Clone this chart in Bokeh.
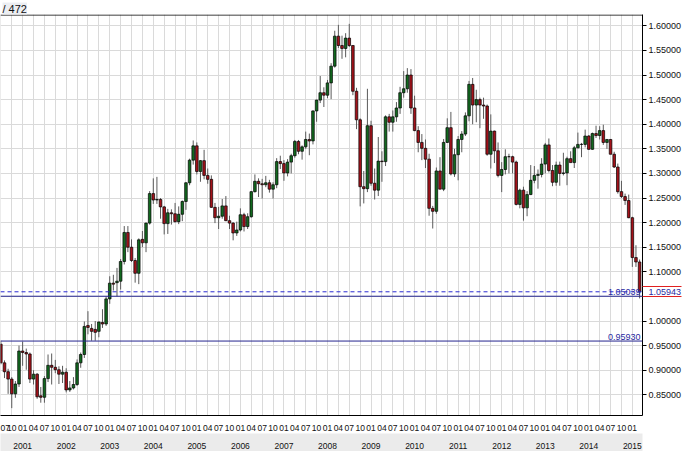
from bokeh.plotting import figure
from bokeh.models import (ColumnDataSource, LinearAxis, FixedTicker, Range1d, Span,
                          Label, PrintfTickFormatter)
from bokeh.embed import file_html
from bokeh.resources import INLINE

# first candle: July 2000 (month index counted from Jan 2000 = 0)
first_month = 6

opens = [
    .953, .915, .897, .882, .852, .872,
    .939, .936, .933, .882, .892, .848, .845, .883, .910, .906, .901, .892,
    .896, .860, .864, .871, .915, .932, .991, .985, .983, .979, .997, .994,
    1.045, 1.077, 1.078, 1.081, 1.121, 1.180, 1.150, 1.123, 1.097, 1.166, 1.159, 1.199,
    1.259, 1.246, 1.247, 1.232, 1.198, 1.220, 1.218, 1.202, 1.217, 1.243, 1.281, 1.327,
    1.356, 1.304, 1.326, 1.296, 1.288, 1.231, 1.210, 1.213, 1.234, 1.204, 1.199, 1.179,
    1.185, 1.216, 1.192, 1.212, 1.263, 1.284, 1.279, 1.277, 1.281, 1.268, 1.277, 1.324,
    1.320, 1.301, 1.323, 1.336, 1.365, 1.345, 1.354, 1.369, 1.366, 1.427, 1.449, 1.464,
    1.459, 1.484, 1.518, 1.579, 1.560, 1.554, 1.575, 1.560, 1.467, 1.409, 1.273, 1.269,
    1.397, 1.280, 1.266, 1.325, 1.324, 1.415, 1.404, 1.415, 1.433, 1.464, 1.472, 1.500,
    1.433, 1.387, 1.363, 1.351, 1.329, 1.229, 1.223, 1.305, 1.268, 1.363, 1.393, 1.299,
    1.338, 1.369, 1.380, 1.417, 1.481, 1.439, 1.450, 1.439, 1.437, 1.339, 1.386, 1.346,
    1.296, 1.308, 1.334, 1.334, 1.323, 1.237, 1.266, 1.230, 1.257, 1.286, 1.296, 1.298,
    1.319, 1.358, 1.306, 1.282, 1.317, 1.300, 1.301, 1.330, 1.322, 1.352, 1.359, 1.359,
    1.376, 1.349, 1.381, 1.377, 1.387, 1.363, 1.369, 1.339, 1.313, 1.263, 1.253, 1.245,
    1.210, 1.129, 1.120,
]
highs = [
    .960, .920, .903, .886, .878, .950,
    .958, .944, .936, .900, .894, .866, .888, .932, .934, .921, .908, .909,
    .904, .878, .886, .922, .936, .999, 1.020, .994, 1.000, .999, 1.024, 1.050,
    1.091, 1.094, 1.108, 1.126, 1.193, 1.193, 1.166, 1.128, 1.168, 1.183, 1.200, 1.264,
    1.290, 1.293, 1.250, 1.234, 1.228, 1.227, 1.240, 1.233, 1.245, 1.282, 1.330, 1.367,
    1.363, 1.327, 1.348, 1.310, 1.296, 1.240, 1.232, 1.248, 1.254, 1.214, 1.201, 1.202,
    1.229, 1.220, 1.219, 1.264, 1.298, 1.290, 1.289, 1.295, 1.287, 1.282, 1.331, 1.336,
    1.327, 1.329, 1.340, 1.368, 1.368, 1.357, 1.385, 1.381, 1.428, 1.450, 1.498, 1.475,
    1.490, 1.524, 1.590, 1.602, 1.580, 1.585, 1.604, 1.560, 1.474, 1.412, 1.305, 1.472,
    1.407, 1.310, 1.374, 1.345, 1.418, 1.421, 1.428, 1.445, 1.476, 1.508, 1.514, 1.512,
    1.458, 1.396, 1.380, 1.369, 1.340, 1.234, 1.312, 1.333, 1.370, 1.412, 1.425, 1.350,
    1.376, 1.386, 1.424, 1.488, 1.494, 1.470, 1.454, 1.454, 1.440, 1.420, 1.387, 1.363,
    1.323, 1.349, 1.340, 1.336, 1.326, 1.269, 1.273, 1.264, 1.317, 1.315, 1.308, 1.331,
    1.362, 1.371, 1.317, 1.324, 1.324, 1.342, 1.334, 1.345, 1.356, 1.383, 1.362, 1.389,
    1.378, 1.383, 1.397, 1.396, 1.399, 1.370, 1.370, 1.344, 1.320, 1.285, 1.259, 1.257,
    1.212, 1.154, 1.125,
]
lows = [
    .912, .884, .852, .823, .844, .866,
    .909, .901, .874, .871, .842, .834, .834, .876, .871, .894, .872, .874,
    .855, .856, .861, .868, .905, .925, .973, .960, .960, .967, .986, .990,
    1.035, 1.062, 1.050, 1.064, 1.115, 1.140, 1.120, 1.078, 1.075, 1.150, 1.140, 1.196,
    1.238, 1.238, 1.208, 1.176, 1.177, 1.196, 1.200, 1.197, 1.203, 1.226, 1.276, 1.318,
    1.298, 1.283, 1.288, 1.279, 1.230, 1.199, 1.187, 1.208, 1.203, 1.187, 1.164, 1.173,
    1.182, 1.182, 1.187, 1.210, 1.261, 1.252, 1.249, 1.272, 1.261, 1.249, 1.270, 1.309,
    1.285, 1.294, 1.300, 1.332, 1.339, 1.328, 1.350, 1.337, 1.359, 1.405, 1.443, 1.435,
    1.453, 1.451, 1.515, 1.555, 1.533, 1.536, 1.557, 1.459, 1.390, 1.233, 1.239, 1.262,
    1.275, 1.247, 1.254, 1.283, 1.315, 1.385, 1.385, 1.405, 1.421, 1.454, 1.464, 1.421,
    1.386, 1.343, 1.327, 1.311, 1.214, 1.188, 1.218, 1.271, 1.264, 1.362, 1.296, 1.293,
    1.286, 1.343, 1.376, 1.406, 1.400, 1.404, 1.392, 1.411, 1.336, 1.310, 1.321, 1.292,
    1.262, 1.298, 1.300, 1.300, 1.235, 1.229, 1.204, 1.213, 1.256, 1.280, 1.269, 1.292,
    1.300, 1.302, 1.274, 1.275, 1.275, 1.296, 1.276, 1.322, 1.311, 1.351, 1.333, 1.353,
    1.348, 1.348, 1.372, 1.369, 1.358, 1.350, 1.339, 1.311, 1.259, 1.250, 1.236, 1.209,
    1.110, 1.110, 1.046,
]
closes = [
    .915, .897, .882, .852, .872, .939,
    .936, .933, .882, .892, .846, .845, .883, .910, .906, .901, .892, .896,
    .860, .864, .871, .915, .932, .989, .987, .979, .977, .998, .994, 1.045,
    1.077, 1.075, 1.081, 1.121, 1.180, 1.150, 1.123, 1.097, 1.165, 1.159, 1.199, 1.259,
    1.246, 1.247, 1.232, 1.198, 1.220, 1.218, 1.202, 1.217, 1.243, 1.281, 1.327, 1.356,
    1.304, 1.326, 1.296, 1.288, 1.231, 1.210, 1.213, 1.234, 1.204, 1.199, 1.179, 1.185,
    1.216, 1.192, 1.212, 1.263, 1.284, 1.279, 1.277, 1.281, 1.268, 1.277, 1.324, 1.320,
    1.301, 1.323, 1.336, 1.365, 1.345, 1.354, 1.369, 1.366, 1.427, 1.449, 1.464, 1.459,
    1.484, 1.518, 1.579, 1.560, 1.554, 1.575, 1.560, 1.467, 1.409, 1.273, 1.269, 1.397,
    1.280, 1.266, 1.325, 1.324, 1.415, 1.404, 1.415, 1.433, 1.464, 1.472, 1.500, 1.433,
    1.387, 1.363, 1.351, 1.329, 1.229, 1.223, 1.305, 1.268, 1.363, 1.393, 1.299, 1.338,
    1.369, 1.380, 1.417, 1.481, 1.439, 1.450, 1.439, 1.437, 1.339, 1.386, 1.346, 1.296,
    1.308, 1.334, 1.334, 1.323, 1.237, 1.266, 1.230, 1.257, 1.286, 1.296, 1.298, 1.319,
    1.358, 1.306, 1.282, 1.317, 1.300, 1.301, 1.330, 1.322, 1.352, 1.359, 1.359, 1.376,
    1.349, 1.381, 1.377, 1.387, 1.363, 1.369, 1.339, 1.313, 1.263, 1.253, 1.245, 1.210,
    1.129, 1.120, 1.05943,
]

price_ticks = [0.85, 0.90, 0.95, 1.00, 1.05, 1.10, 1.15, 1.20, 1.25, 1.30,
               1.35, 1.40, 1.45, 1.50, 1.55, 1.60]
month_names = {0: "01", 3: "04", 6: "07", 9: "10"}
years = list(range(2001, 2016))
current_price = 1.05943
level_lines = [1.05039, 0.95930]
chart_title = "/ 472"

FONT = "Liberation Sans"
n = len(opens)
xs = [first_month + i for i in range(n)]
bull = "#12691f"
bear = "#a3121a"
src = ColumnDataSource(dict(
    x=xs, o=opens, h=highs, l=lows, c=closes,
    top=[max(a, b) for a, b in zip(opens, closes)],
    bot=[min(a, b) for a, b in zip(opens, closes)],
    col=[bull if c >= o else bear for o, c in zip(opens, closes)],
))

x_start, x_end = first_month - 0.1, first_month + n - 1 + 0.8
y_start, y_end = 0.808, 1.623

p = figure(width=684, height=451, output_backend="svg", toolbar_location=None,
           x_range=Range1d(x_start, x_end), y_range=Range1d(y_start, y_end),
           y_axis_location="right", title=chart_title,
           min_border_left=0, min_border_top=0, min_border_right=3, min_border_bottom=0)
p.background_fill_color = "white"
p.border_fill_color = "white"
p.outline_line_color = None

p.title.text_font = FONT
p.title.text_font_size = "11px"
p.title.text_font_style = "normal"
p.title.text_color = "#111111"
p.title.align = "left"
p.title.background_fill_color = "#eceef2"
p.title.offset = 2
p.title.standoff = 0

# month axis
quarter_ticks = [m for m in range(first_month, first_month + n + 1) if m % 3 == 0]
xa = p.xaxis[0]
xa.ticker = FixedTicker(ticks=quarter_ticks)
xa.major_label_overrides = {m: month_names[m % 12] for m in quarter_ticks}
xa.major_label_text_font = FONT
xa.major_label_text_font_size = "8.5px"
xa.major_label_text_color = "#111111"
xa.axis_line_color = "black"
xa.major_tick_line_color = None
xa.minor_tick_line_color = None
xa.major_label_standoff = 3

# year axis
year_ticks = [(y - 2000) * 12 for y in years]
yax = LinearAxis(ticker=FixedTicker(ticks=year_ticks),
                 major_label_overrides={(y - 2000) * 12: str(y) for y in years})
yax.major_label_text_font = FONT
yax.major_label_text_font_size = "8.5px"
yax.major_label_text_color = "#111111"
yax.axis_line_color = None
yax.major_tick_line_color = None
yax.minor_tick_line_color = None
yax.major_label_standoff = 3
try:
    yax.background_fill_color = "#ebebeb"
except Exception:
    pass
p.add_layout(yax, "below")

# price axis; its two red minor ticks are the top and bottom of the current-price box
box_half = 0.0100
box_px = 39
ya = p.yaxis[0]
ya.ticker = FixedTicker(ticks=price_ticks,
                        minor_ticks=[current_price - box_half, current_price + box_half])
ya.formatter = PrintfTickFormatter(format="%.5f")
ya.major_label_overrides = {1.05: ""}   # hidden under the current-price box
ya.major_label_text_font = FONT
ya.major_label_text_font_size = "9px"
ya.major_label_text_color = "#111111"
ya.axis_line_color = "black"
ya.major_tick_line_color = "black"
ya.major_tick_out = 4
ya.major_tick_in = 0
ya.minor_tick_line_color = "#e02020"
ya.minor_tick_out = box_px
ya.minor_tick_in = 0
ya.major_label_standoff = 6 - box_px

# right edge of the box + the current price text (second axis in the right panel)
pb = LinearAxis(bounds=(current_price - box_half, current_price + box_half),
                ticker=FixedTicker(ticks=[current_price]),
                formatter=PrintfTickFormatter(format="%.5f"))
pb.axis_line_color = "#e02020"
pb.major_tick_line_color = None
pb.major_tick_out = 0
pb.major_tick_in = 0
pb.minor_tick_line_color = None
pb.major_label_standoff = -36
pb.major_label_text_font = FONT
pb.major_label_text_font_size = "9px"
pb.major_label_text_color = "#2a2aa0"
p.add_layout(pb, "right")

p.xgrid.grid_line_color = "#dadada"
p.ygrid.ticker = FixedTicker(ticks=price_ticks)
p.ygrid.grid_line_color = "#dadada"

p.add_layout(Span(location=y_end - 0.001, dimension="width", line_color="black", line_width=1.2))

p.segment(x0="x", y0="l", x1="x", y1="h", source=src, line_color="#5a5a5a", line_width=1)
p.vbar(x="x", top="top", bottom="bot", width=0.72, source=src,
       fill_color="col", line_color="black", line_width=0.7)

p.add_layout(Span(location=current_price, dimension="width", line_color="#2a2ad2",
                  line_dash="4 3", line_width=1))
for lv in level_lines:
    p.add_layout(Span(location=lv, dimension="width", line_color="#25258f", line_width=1))
    p.add_layout(Label(x=x_end, y=lv, text="%.5f" % lv, text_align="right",
                       text_baseline="bottom", x_offset=-2, y_offset=1,
                       text_font=FONT, text_font_size="9px",
                       text_color="#2a2aa0"))

open("out.html", "w").write(file_html(p, INLINE))
